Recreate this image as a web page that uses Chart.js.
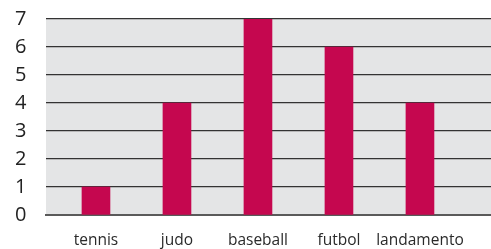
<!DOCTYPE html>
<html>
<head>
<meta charset="utf-8">
<script src="https://cdn.jsdelivr.net/npm/chart.js@4"></script>
<style>
  html, body { margin: 0; padding: 0; background: #fff; }
  #wrap { width: 491px; height: 249px; }
</style>
</head>
<body>
<div id="wrap"><canvas id="chart"></canvas></div>
<script>
// ---------- data ----------
const SPORTS = ["tennis", "judo", "baseball", "futbol", "landamento"];
const VOTES = [1, 4, 7, 6, 4];
const Y_TICKS = [0, 1, 2, 3, 4, 5, 6, 7];

// gray plot background
const plotBg = {
  id: "plotBg",
  beforeDraw(chart) {
    const { ctx, chartArea: a } = chart;
    ctx.save();
    ctx.fillStyle = "#e4e5e6";
    ctx.fillRect(a.left, a.top, a.right - a.left, a.bottom - a.top);
    ctx.restore();
  },
};

const points = SPORTS.map((_, i) => ({ x: i, y: VOTES[i] }));

new Chart(document.getElementById("chart").getContext("2d"), {
  type: "bar",
  data: {
    datasets: [
      {
        data: points,
        backgroundColor: "#c5074f",
        barThickness: 28,
      },
    ],
  },
  options: {
    responsive: true,
    maintainAspectRatio: false,
    animation: false,
    layout: { padding: { top: 19, right: 0, bottom: 0, left: 15 } },
    plugins: { legend: { display: false }, tooltip: { enabled: false } },
    scales: {
      x: {
        type: "linear",
        offset: false,
        min: -0.617,
        max: 4.877,
        afterFit: (s) => { s.height = 34; },
        grid: { display: false, drawTicks: false },
        border: { display: true, color: "#5a5a5a", width: 2 },
        ticks: {
          stepSize: 1,
          includeBounds: false,
          autoSkip: false,
          maxRotation: 0,
          padding: 16,
          color: "#2a2a2a",
          font: { family: "Open Sans", size: 15.5 },
          callback: (v) => (SPORTS[v] !== undefined ? SPORTS[v] : ""),
        },
      },
      y: {
        min: Y_TICKS[0],
        max: Y_TICKS[Y_TICKS.length - 1],
        afterFit: (s) => { s.width = 31; },
        afterBuildTicks: (s) => { s.ticks = Y_TICKS.map((v) => ({ value: v })); },
        grid: { color: "#333", lineWidth: 1.3, drawTicks: false },
        border: { display: false },
        ticks: {
          autoSkip: false,
          crossAlign: "far",
          padding: 0,
          color: "#222",
          font: { family: "Open Sans", size: 20 },
        },
      },
    },
  },
  plugins: [plotBg],
});
</script>
</body>
</html>
